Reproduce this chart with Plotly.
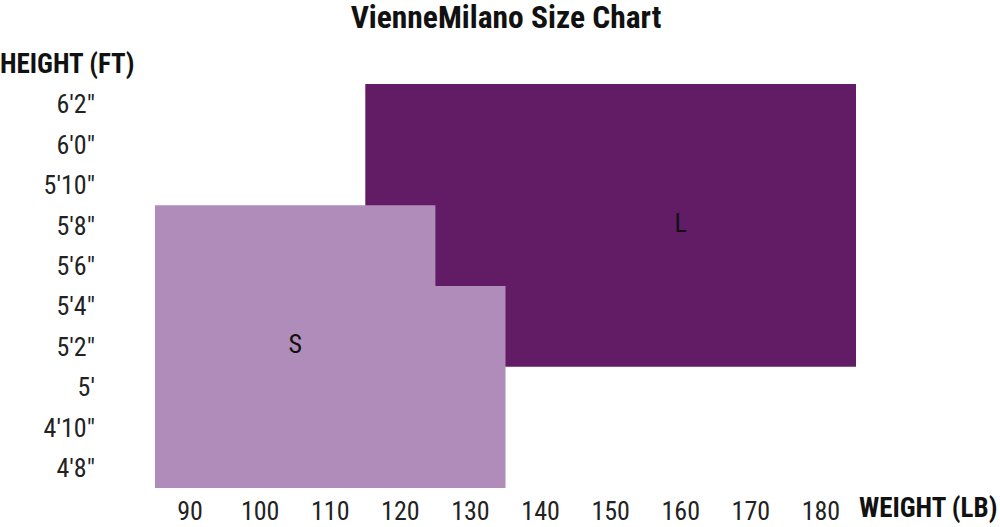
import plotly.graph_objects as go

# size regions (weight in lb, height in inches)
s_weight = [85, 125, 125, 135, 135, 85]
s_height = [69, 69, 65, 65, 55, 55]
l_weight = [115, 185, 185, 115]
l_height = [75, 75, 61, 61]

size_names = ["L", "S"]
label_weight = [160, 105]
label_height = [68, 62]

weight_ticks = [90, 100, 110, 120, 130, 140, 150, 160, 170, 180]
height_ticks = [56, 58, 60, 62, 64, 66, 68, 70, 72, 74]
height_labels = ["4'8\"", "4'10\"", "5'", "5'2\"", "5'4\"", "5'6\"", "5'8\"", "5'10\"", "6'0\"", "6'2\""]

FONT = "Roboto Condensed, Roboto, sans-serif"
W, H = 1000, 527

fig = go.Figure()

# L region first so S sits on top
fig.add_trace(go.Scatter(x=l_weight, y=l_height, fill="toself", mode="lines",
                         fillcolor="#621c66", line=dict(width=0), hoverinfo="skip"))
fig.add_trace(go.Scatter(x=s_weight, y=s_height, fill="toself", mode="lines",
                         fillcolor="#b08cbb", line=dict(width=0), hoverinfo="skip"))
fig.add_trace(go.Scatter(x=label_weight, y=label_height, text=size_names, mode="text",
                         textfont=dict(family=FONT, size=26, color="#111111"), hoverinfo="skip"))

fig.update_layout(
    width=W, height=H,
    margin=dict(l=155, r=144, t=84, b=39),
    plot_bgcolor="white", paper_bgcolor="white",
    showlegend=False,
    font=dict(family=FONT, size=26, color="#222222"),
    title=dict(text="<b>VienneMilano Size Chart</b>", x=506 / W, xanchor="center",
               y=1 - 17 / H, yanchor="middle",
               font=dict(family=FONT, size=31.5, color="#111111")),
)

fig.update_xaxes(range=[85, 185], tickvals=weight_ticks, showgrid=False, zeroline=False,
                 showline=False, ticks="", ticklabelstandoff=5, automargin=False)
fig.update_yaxes(range=[55, 75], tickvals=height_ticks, ticktext=height_labels,
                 showgrid=False, zeroline=False, showline=False, ticks="",
                 ticklabelstandoff=59, automargin=False)

fig.add_annotation(text="<b>HEIGHT (FT)</b>", xref="paper", yref="paper", x=0, y=1,
                   xanchor="left", yanchor="middle", xshift=-157, yshift=20, showarrow=False,
                   font=dict(family=FONT, size=27, color="#111111"))
fig.add_annotation(text="<b>WEIGHT (LB)</b>", xref="paper", yref="paper", x=1, y=0,
                   xanchor="left", yanchor="middle", xshift=1, yshift=-20, showarrow=False,
                   font=dict(family=FONT, size=27, color="#111111"))

# drop the page's default body margin so the figure fills the window exactly
fig.write_html("out.html", config={"displayModeBar": False},
               post_script="document.body.style.margin='0';")
